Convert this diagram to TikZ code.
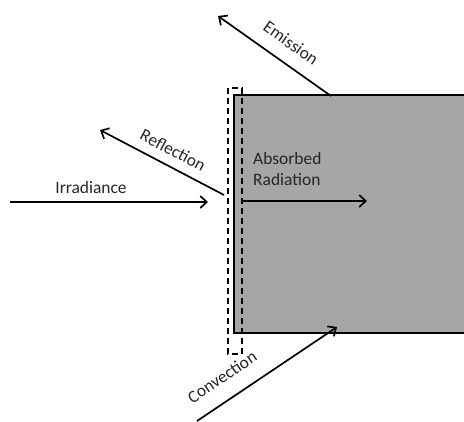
\documentclass[tikz,border=0pt]{standalone}
\usepackage{fontspec}
\setmainfont{Carlito}
\usetikzlibrary{arrows.meta}
\definecolor{bodygray}{HTML}{A6A6A6}
\definecolor{txt}{HTML}{262626}
\tikzset{
  flow/.style={line width=1.7bp, -{Straight Barb[length=6.5bp,width=12bp,line width=1.7bp]}},
  lbl/.style={font=\fontsize{17.5}{21}\selectfont, text=txt, inner sep=0pt},
  edge/.style={line width=1.6bp},
  film/.style={line width=1.4bp, dash pattern=on 6bp off 4bp}
}
\begin{document}
\begin{tikzpicture}[x=1bp,y=-1bp]
\useasboundingbox (0,0) rectangle (464,421);
% body
\fill[bodygray] (234,95) rectangle (464,333);
\draw[edge] (464,95) -- (234,95) -- (234,333) -- (464,333);
% dashed control surface
\draw[film] (228,88) rectangle (242,354);
% coordinates
\coordinate (irrA) at (10,202);
\coordinate (irrB) at (208,202);
\coordinate (refA) at (224,195);
\coordinate (refB) at (100,130);
\coordinate (emiA) at (331,96);
\coordinate (emiB) at (218,16);
\coordinate (conA) at (197,421);
\coordinate (conB) at (337,327);
\coordinate (absA) at (242,201);
\coordinate (absB) at (367,201);
% arrows
\draw[flow] (irrA) -- (irrB);
\draw[flow] (refA) -- (refB);
\draw[flow] (emiA) -- (emiB);
\draw[flow] (conA) -- (conB);
\draw[flow] (absA) -- (absB);
% labels
\node[lbl] (irr) at (91,188) {Irradiance};
\node[lbl, rotate=-27.7] (ref) at (173,150) {Reflection};
\node[lbl, rotate=-35] (emi) at (291,43) {Emission};
\node[lbl, rotate=34] (con) at (222,377) {Convection};
\node[lbl, align=left, anchor=north west] (abs) at (253,152) {Absorbed\\Radiation};
\end{tikzpicture}
\end{document}
